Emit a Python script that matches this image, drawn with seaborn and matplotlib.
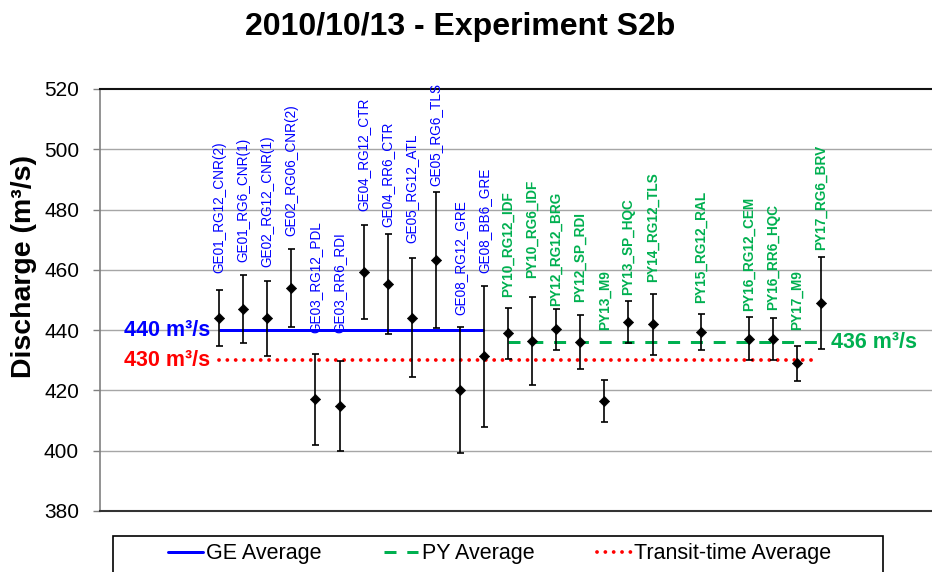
import numpy as np
import pandas as pd
import matplotlib
matplotlib.use("Agg")
import matplotlib.pyplot as plt
from matplotlib.lines import Line2D
from matplotlib.patches import Rectangle
import seaborn as sns

nan = np.nan

# Gauging stations in plotting order (blank slots leave gaps on the axis)
stations = ["GE01_RG12_CNR(2)", "GE01_RG6_CNR(1)", "GE02_RG12_CNR(1)", "GE02_RG06_CNR(2)",
            "GE03_RG12_PDL", "GE03_RR6_RDI", "GE04_RG12_CTR", "GE04_RR6_CTR",
            "GE05_RG12_ATL", "GE05_RG6_TLS", "GE08_RG12_GRE", "GE08_BB6_GRE",
            "PY10_RG12_IDF", "PY10_RG6_IDF", "PY12_RG12_BRG", "PY12_SP_RDI",
            "PY13_M9", "PY13_SP_HQC", "PY14_RG12_TLS", "", "PY15_RG12_RAL", "",
            "PY16_RG12_CEM", "PY16_RR6_HQC", "PY17_M9", "PY17_RG6_BRV"]
discharge = [444.1, 447.0, 443.9, 453.9, 417.0, 414.9, 459.3, 455.4, 444.1, 463.3, 420.1, 431.4,
             438.9, 436.3, 440.3, 436.0, 416.4, 442.6, 441.9, nan, 439.4, nan,
             437.1, 437.1, 429.0, 449.1]
uncertainty = [9.3, 11.3, 12.5, 13.0, 15.0, 15.0, 15.5, 16.6, 19.7, 22.5, 20.8, 23.4,
               8.4, 14.6, 6.8, 9.0, 6.9, 7.0, 10.0, nan, 5.9, nan,
               7.1, 7.0, 5.8, 15.2]

ge_average = 440
py_average = 436
transit_average = 430

# gap (px) between top of each error bar and its station label
label_gap_px = [17, 13, 14, 13, 21, 28, 14, 7, 15, 6, 12, 13,
                11, 19, 3, 13, 50, 6, 12, 0, 11, 0, 6, 8, 16, 7]

BLUE = "#0000FF"
GREEN = "#00B050"
RED = "#FF0000"

df = pd.DataFrame({"station": stations, "discharge": discharge, "unc": uncertainty})
df["pos"] = np.arange(len(df))
df["group"] = df["station"].str[:2]
pts = df.dropna(subset=["discharge"])

sns.set_theme(style="white")
plt.rcParams["font.family"] = ["Liberation Sans", "DejaVu Sans"]
plt.rcParams["text.color"] = "black"
plt.rcParams["ytick.labelcolor"] = "black"

W, H = 932, 572
fig = plt.figure(figsize=(W / 100, H / 100), dpi=100)
px = lambda v: v * 72 / 100  # pixels -> points

ax_left, ax_right, ax_top, ax_bottom = 100, 941.4, 89, 511
ax = fig.add_axes([ax_left / W, 1 - ax_bottom / H, (ax_right - ax_left) / W, (ax_bottom - ax_top) / H])
ax.set_xlim(-4.95, 30)
ax.set_ylim(380, 520)

# grid
for v in range(400, 520, 20):
    ax.axhline(v, color="#A6A6A6", lw=1.0, zorder=0)

# error bars and markers
ax.errorbar(pts["pos"], pts["discharge"], yerr=pts["unc"], fmt="none",
            ecolor="black", elinewidth=1.2, capsize=px(3.5), capthick=1.2, zorder=3)
sns.scatterplot(data=pts, x="pos", y="discharge", marker="D", color="black",
                s=px(7.2) ** 2, edgecolor="black", linewidth=0.5, zorder=4, ax=ax, legend=False)

# average lines
ge = df[df["group"] == "GE"]
py = df[(df["group"] == "PY")]
x_ge0, x_ge1 = ge["pos"].min(), ge["pos"].max()
x_py0, x_py1 = py["pos"].min(), py["pos"].max()
lw_avg = px(3)
lw_dot = px(3.8)
dash_py = (0, (4.0, 3.6))
dot_tt = (0, (0.01, 8.3 / 3.8))
ax.plot([x_ge0, x_ge1], [ge_average] * 2, color=BLUE, lw=lw_avg, solid_capstyle="butt", zorder=2)
ax.plot([x_py0, x_py1], [py_average] * 2, color=GREEN, lw=lw_avg,
        linestyle=dash_py, dash_capstyle="butt", zorder=2)
ax.plot([x_ge0, x_py1 - 0.15], [transit_average] * 2, color=RED, lw=lw_dot,
        linestyle=dot_tt, dash_capstyle="round", zorder=2)

# average value annotations
ax.annotate(f"{ge_average} m³/s", (x_ge0, ge_average), xytext=(-px(9), 0), textcoords="offset points",
            ha="right", va="center", color=BLUE, fontsize=15.5, fontweight="bold")
ax.annotate(f"{transit_average} m³/s", (x_ge0, transit_average), xytext=(-px(9), 0), textcoords="offset points",
            ha="right", va="center", color=RED, fontsize=15.5, fontweight="bold")
ax.annotate(f"{py_average} m³/s", (x_py1, py_average), xytext=(px(10), 0), textcoords="offset points",
            ha="left", va="center", color=GREEN, fontsize=15.5, fontweight="bold")

# station labels
for _, r in pts.iterrows():
    is_py = r["group"] == "PY"
    ax.annotate(r["station"], (r["pos"], r["discharge"] + r["unc"]),
                xytext=(0, px(label_gap_px[int(r["pos"])])), textcoords="offset points",
                rotation=90, ha="center", va="bottom", fontsize=9.8,
                color=GREEN if is_py else BLUE, fontweight="bold" if is_py else "normal",
                annotation_clip=False)

# axes styling
ax.set_xticks([])
ax.set_yticks(range(380, 521, 20))
ax.tick_params(axis="y", labelsize=15, length=7 * 0.72, width=1, color="#808080", pad=10,
               left=True, labelcolor="black")
ax.set_xlabel("")
ax.set_ylabel("")
ax.spines["left"].set_color("#808080")
ax.spines["left"].set_linewidth(1.2)
ax.spines["top"].set_color("#111111")
ax.spines["top"].set_linewidth(1.5)
ax.spines["bottom"].set_color("#333333")
ax.spines["bottom"].set_linewidth(1.5)
ax.spines["right"].set_visible(False)

fig.text(460 / W, 1 - 35 / H, "2010/10/13 - Experiment S2b", ha="center", va="baseline",
         fontsize=23, fontweight="bold", color="black")
fig.text(24 / W, 1 - 267 / H, "Discharge (m³/s)", rotation=90, ha="center", va="center",
         fontsize=20.5, fontweight="bold", color="black")

# legend box and entries
fig.patches.append(Rectangle((113 / W, 1 - 590 / H), (883 - 113) / W, (590 - 536) / H,
                             transform=fig.transFigure, fill=False, edgecolor="black", lw=1.2))
handles = [Line2D([], [], color=BLUE, lw=lw_avg),
           Line2D([], [], color=GREEN, lw=lw_avg, linestyle=dash_py),
           Line2D([], [], color=RED, lw=lw_dot, linestyle=dot_tt, dash_capstyle="round")]
leg = fig.legend(handles, ["GE Average", "PY Average", "Transit-time Average"], ncol=3, frameon=False,
                 loc="center", bbox_to_anchor=(500 / W, 1 - 554 / H), fontsize=15.5,
                 handlelength=1.6, handletextpad=0.15, columnspacing=2.9, borderaxespad=0)
for t in leg.get_texts():
    t.set_color("black")

fig.savefig("out.png", dpi=100)
